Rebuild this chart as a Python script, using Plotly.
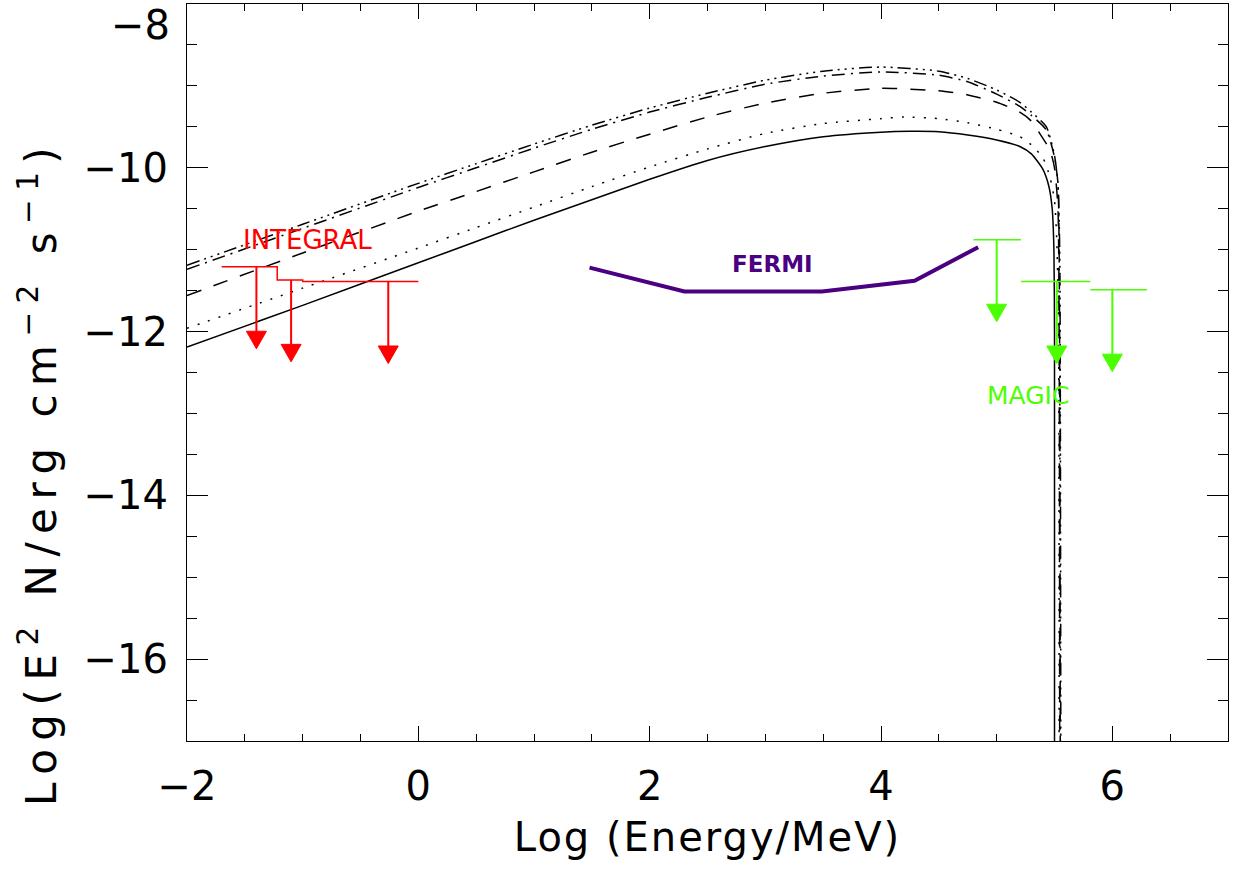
import plotly.graph_objects as go

# ---------------- data ----------------
# model curves: log10(E/MeV) vs log10(E^2 N / erg cm^-2 s^-1)
x_solid = [-2.0, -1.0, 0.0, 0.5, 1.0, 1.5, 2.0, 2.5, 3.0, 3.5, 4.0, 4.25, 4.5, 4.75, 5.0, 5.2, 5.3, 5.4, 5.45, 5.48, 5.495, 5.50, 5.50]
y_solid = [-12.19, -11.68, -11.16, -10.90, -10.64, -10.39, -10.14, -9.91, -9.74, -9.62, -9.565, -9.555, -9.56, -9.60, -9.66, -9.74, -9.83, -10.02, -10.22, -10.50, -11.0, -12.0, -17.5]

x_dot = [-2.0, -1.0, 0.0, 0.5, 1.0, 1.5, 2.0, 2.5, 3.0, 3.5, 4.0, 4.2, 4.5, 4.75, 5.0, 5.2, 5.3, 5.4, 5.46, 5.50, 5.52, 5.535, 5.54]
y_dot = [-11.96, -11.47, -10.98, -10.73, -10.48, -10.23, -9.99, -9.77, -9.58, -9.46, -9.40, -9.38, -9.40, -9.45, -9.53, -9.62, -9.72, -9.88, -10.11, -10.40, -10.90, -12.0, -17.5]

x_dash = [-2.0, -1.0, 0.0, 0.5, 1.0, 1.5, 2.0, 2.5, 3.0, 3.5, 4.0, 4.5, 4.75, 5.0, 5.2, 5.3, 5.39, 5.46, 5.50, 5.53, 5.54, 5.545]
y_dash = [-11.56, -11.04, -10.53, -10.29, -10.05, -9.81, -9.59, -9.38, -9.21, -9.09, -9.03, -9.06, -9.11, -9.20, -9.32, -9.43, -9.62, -9.78, -10.00, -10.50, -12.0, -17.5]

x_dashdot = [-2.0, -1.0, 0.0, 0.5, 1.0, 1.5, 2.0, 2.5, 3.0, 3.5, 4.0, 4.5, 4.75, 5.0, 5.2, 5.3, 5.43, 5.50, 5.53, 5.54, 5.545, 5.55]
y_dashdot = [-11.24, -10.74, -10.24, -10.00, -9.76, -9.53, -9.32, -9.14, -8.98, -8.88, -8.83, -8.87, -8.95, -9.10, -9.25, -9.36, -9.54, -9.87, -10.19, -11.0, -12.5, -17.5]

x_dash3dot = [-2.0, -1.0, 0.0, 0.5, 1.0, 1.5, 2.0, 2.5, 3.0, 3.5, 4.0, 4.5, 4.75, 5.0, 5.2, 5.3, 5.43, 5.50, 5.53, 5.545, 5.55, 5.555]
y_dash3dot = [-11.19, -10.69, -10.19, -9.95, -9.71, -9.48, -9.27, -9.09, -8.93, -8.82, -8.77, -8.82, -8.91, -9.05, -9.20, -9.32, -9.50, -9.85, -10.20, -11.0, -12.5, -17.5]

# INTEGRAL upper limits (bins and arrow positions)
integral_lo = [-1.70, -1.22, -1.00]
integral_hi = [-1.22, -1.00, 0.00]
integral_y = [-11.21, -11.37, -11.39]
integral_xc = [-1.40, -1.10, -0.26]

# Fermi sensitivity curve
fermi_x = [1.48, 2.30, 3.49, 4.29, 4.84]
fermi_y = [-11.22, -11.51, -11.51, -11.38, -10.97]

# MAGIC upper limits
magic_lo = [4.80, 5.21, 5.81]
magic_hi = [5.21, 5.81, 6.30]
magic_y = [-10.88, -11.39, -11.49]
magic_xc = [5.00, 5.52, 6.00]

arrow_len = 1.0  # dex

x_ticks = [-2, 0, 2, 4, 6]
y_ticks = [-16, -14, -12, -10, -8]

# ---------------- style ----------------
XR = [-2, 7]
YR = [-17, -8]
W, H = 1243, 873
ML, MR, MT, MB = 187, 15, 4, 132
px_x = (W - ML - MR) / (XR[1] - XR[0])
px_y = (H - MT - MB) / (YR[1] - YR[0])
RED = "#ff0000"
GREEN = "#4cff00"
PURPLE = "#4b0082"
FONT = "DejaVu Sans"

fig = go.Figure()

curves = [
    (x_solid, y_solid, "solid"),
    (x_dot, y_dot, "2px,9px"),
    (x_dash, y_dash, "15px,13px"),
    (x_dashdot, y_dashdot, "13px,6px,2px,6px"),
    (x_dash3dot, y_dash3dot, "13px,5px,2px,5px,2px,5px,2px,5px"),
]
for xs, ys, d in curves:
    fig.add_trace(go.Scatter(x=xs, y=ys, mode="lines",
                             line=dict(color="black", width=1.5, dash=d,
                                       shape="spline", smoothing=0.6),
                             hoverinfo="skip", showlegend=False))


def add_limits(lo, hi, yv, xc, color, step):
    if step:
        xs = list(lo) + [hi[-1]]
        ys = list(yv) + [yv[-1]]
        fig.add_trace(go.Scatter(x=xs, y=ys, mode="lines", line_shape="hv",
                                 line=dict(color=color, width=1.5),
                                 showlegend=False, hoverinfo="skip"))
    else:
        xs, ys = [], []
        for a, b, v in zip(lo, hi, yv):
            xs += [a, b, None]
            ys += [v, v, None]
        fig.add_trace(go.Scatter(x=xs, y=ys, mode="lines",
                                 line=dict(color=color, width=1.5),
                                 showlegend=False, hoverinfo="skip"))
    # arrow stems
    sx, sy = [], []
    for v, c in zip(yv, xc):
        sx += [c, c, None]
        sy += [v, v - arrow_len + 0.1, None]
    fig.add_trace(go.Scatter(x=sx, y=sy, mode="lines",
                             line=dict(color=color, width=2),
                             showlegend=False, hoverinfo="skip"))
    # arrow heads
    hw = 10.0 / px_x
    hh = 17.5 / px_y
    for v, c in zip(yv, xc):
        tip = v - arrow_len
        fig.add_trace(go.Scatter(x=[c - hw, c + hw, c, c - hw],
                                 y=[tip + hh, tip + hh, tip, tip + hh],
                                 mode="lines", fill="toself", fillcolor=color,
                                 line=dict(color=color, width=1),
                                 showlegend=False, hoverinfo="skip"))


add_limits(integral_lo, integral_hi, integral_y, integral_xc, RED, True)
add_limits(magic_lo, magic_hi, magic_y, magic_xc, GREEN, False)

fig.add_trace(go.Scatter(x=fermi_x, y=fermi_y, mode="lines",
                         line=dict(color=PURPLE, width=4),
                         showlegend=False, hoverinfo="skip"))

# labels
fig.add_annotation(x=-0.96, y=-10.88, text="INTEGRAL", showarrow=False,
                   font=dict(family=FONT, size=26, color=RED))
fig.add_annotation(x=3.06, y=-11.17, text="<b>FERMI</b>", showarrow=False,
                   font=dict(family=FONT, size=23, color=PURPLE))
fig.add_annotation(x=5.27, y=-12.78, text="MAGIC", showarrow=False,
                   font=dict(family=FONT, size=25, color=GREEN))

# top y label shifted down like the reference
fig.add_annotation(xref="paper", x=0, xanchor="right", xshift=-15,
                   y=-8, yanchor="top", yshift=4, text="\u22128", showarrow=False,
                   font=dict(family=FONT, size=40, color="black"))

# y title
fig.add_annotation(xref="paper", yref="paper",
                   x=(38 - ML) / (W - ML - MR), y=(H - MB - 473) / (H - MT - MB),
                   text=("<span style='letter-spacing:8.5px'>Log(E<sup>2</sup> N/erg "
                         "cm<sup>\u22122</sup> s<sup>\u22121</sup>)</span>"),
                   textangle=-90, showarrow=False, xanchor="center", yanchor="middle",
                   font=dict(family=FONT, size=42, color="black"))

axis_common = dict(showline=True, linecolor="black", linewidth=1, mirror="ticks",
                   ticks="inside", tickcolor="black", tickwidth=1,
                   showgrid=False, zeroline=False,
                   tickfont=dict(family=FONT, size=40, color="black"))

fig.update_xaxes(range=XR, tickvals=x_ticks, ticklen=15,
                 minor=dict(ticks="inside", ticklen=7, dtick=0.5, tick0=0,
                            tickcolor="black", showgrid=False),
                 title=dict(text="<span style='letter-spacing:2px'>Log (Energy/MeV)</span>",
                            font=dict(family=FONT, size=40, color="black"),
                            standoff=14),
                 ticklabelstandoff=10,
                 **axis_common)
fig.update_yaxes(range=YR, tickvals=y_ticks, ticktext=["\u221216", "\u221214", "\u221212", "\u221210", ""],
                 ticklen=21,
                 minor=dict(ticks="inside", ticklen=10, dtick=0.5, tick0=0,
                            tickcolor="black", showgrid=False),
                 ticklabelstandoff=10,
                 **axis_common)

fig.update_layout(width=W, height=H, margin=dict(l=ML, r=MR, t=MT, b=MB),
                  paper_bgcolor="white", plot_bgcolor="white",
                  showlegend=False)

fig.write_html("out.html")
